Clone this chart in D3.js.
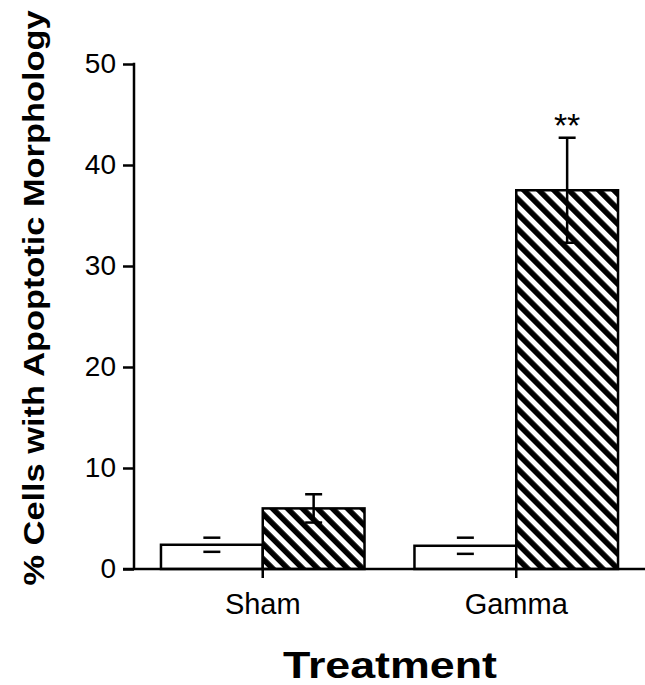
<!DOCTYPE html>
<html>
<head>
<meta charset="utf-8">
<script src="https://cdn.jsdelivr.net/npm/d3@7"></script>
<style>
  body { margin: 0; background: #fff; }
  svg { display: block; font-family: 'Liberation Sans', Arial, Helvetica, sans-serif; }
</style>
</head>
<body>
<div id="chart"></div>
<script>
// data
const groups = ['Sham', 'Gamma'];
const series = ['control', 'treated'];
const controlMeans = [2.4, 2.3];
const controlErr = [0.7, 0.8];
const treatedMeans = [6.0, 37.5];
const treatedErr = [1.4, 5.2];
const yTicks = [0, 10, 20, 30, 40, 50];
const marks = ['', '**'];

const width = 645;
const height = 685;
const margin = { top: 64, right: 1, bottom: 115, left: 136 };

const svg = d3.select('#chart')
  .append('svg')
  .attr('width', width)
  .attr('height', height);

// hatch pattern for the treated bars
const defs = svg.append('defs');
const pat = defs.append('pattern')
  .attr('id', 'hatch')
  .attr('patternUnits', 'userSpaceOnUse')
  .attr('width', 10.6)
  .attr('height', 10.6)
  .attr('patternTransform', 'rotate(-45)');
pat.append('rect').attr('width', 10.6).attr('height', 10.6).attr('fill', '#fff');
pat.append('rect').attr('width', 5.6).attr('height', 10.6).attr('fill', '#000');

// scales
const x = d3.scaleBand()
  .domain(groups)
  .range([margin.left, width - margin.right - 1])
  .paddingInner(0.197)
  .paddingOuter(0.0985);

const xInner = d3.scaleBand()
  .domain(series)
  .range([0, x.bandwidth()]);

const y = d3.scaleLinear()
  .domain([0, 50])
  .range([height - margin.bottom - 1, margin.top]);

const rows = [];
groups.forEach((g, i) => {
  rows.push({ group: g, key: 'control', mean: controlMeans[i], err: controlErr[i] });
  rows.push({ group: g, key: 'treated', mean: treatedMeans[i], err: treatedErr[i] });
});

const barX = (d) => x(d.group) + xInner(d.key);
const barMid = (d) => barX(d) + xInner.bandwidth() / 2;

// bars
svg.append('g')
  .selectAll('rect')
  .data(rows)
  .join('rect')
  .attr('x', barX)
  .attr('y', (d) => y(d.mean))
  .attr('width', xInner.bandwidth())
  .attr('height', (d) => y(0) - y(d.mean))
  .attr('fill', (d) => (d.key === 'treated' ? 'url(#hatch)' : '#fff'))
  .attr('stroke', '#000')
  .attr('stroke-width', 2.5);

// error bars (stems only show on the hatched bars)
const err = svg.append('g').attr('stroke', '#000').attr('stroke-width', 2.5);
const capW = 8.5;
err.selectAll('line.stem')
  .data(rows.filter((d) => d.key === 'treated'))
  .join('line')
  .attr('class', 'stem')
  .attr('x1', barMid)
  .attr('x2', barMid)
  .attr('y1', (d) => y(d.mean + d.err))
  .attr('y2', (d) => y(d.mean - d.err));
err.selectAll('line.capHi')
  .data(rows)
  .join('line')
  .attr('class', 'capHi')
  .attr('x1', (d) => barMid(d) - capW)
  .attr('x2', (d) => barMid(d) + capW)
  .attr('y1', (d) => y(d.mean + d.err))
  .attr('y2', (d) => y(d.mean + d.err));
err.selectAll('line.capLo')
  .data(rows)
  .join('line')
  .attr('class', 'capLo')
  .attr('x1', (d) => barMid(d) - capW)
  .attr('x2', (d) => barMid(d) + capW)
  .attr('y1', (d) => y(d.mean - d.err))
  .attr('y2', (d) => y(d.mean - d.err));

// significance marks
svg.append('g')
  .selectAll('text')
  .data(rows.filter((d) => d.key === 'treated'))
  .join('text')
  .attr('x', barMid)
  .attr('y', (d) => y(d.mean + d.err) - 1)
  .attr('text-anchor', 'middle')
  .attr('font-size', 34)
  .text((d, i) => marks[i]);

// y axis
const yAxis = d3.axisLeft(y)
  .tickValues(yTicks)
  .tickSize(11)
  .tickSizeOuter(0)
  .tickPadding(7);

const yAxisGroup = svg.append('g')
  .attr('transform', `translate(${margin.left - 2},0)`)
  .call(yAxis);
yAxisGroup.select('.domain').remove();
yAxisGroup.selectAll('line').attr('stroke', '#000').attr('stroke-width', 2.5);
yAxisGroup.selectAll('text')
  .attr('font-size', 28)
  .attr('font-family', "'Liberation Sans', Arial, sans-serif")
  .attr('fill', '#000');
yAxisGroup.append('line')
  .attr('x1', 0).attr('x2', 0)
  .attr('y1', y(50) - 1.25).attr('y2', y(0))
  .attr('stroke', '#000')
  .attr('stroke-width', 2.5);

// x axis
const xAxis = d3.axisBottom(x).tickSize(9).tickSizeOuter(0).tickPadding(15);
const xAxisGroup = svg.append('g')
  .attr('transform', `translate(0,${y(0)})`)
  .call(xAxis);
xAxisGroup.select('.domain').remove();
xAxisGroup.selectAll('line').attr('stroke', '#000').attr('stroke-width', 2.5);
xAxisGroup.selectAll('text')
  .attr('font-size', 29)
  .attr('font-family', "'Liberation Sans', Arial, sans-serif")
  .attr('fill', '#000');
xAxisGroup.append('line')
  .attr('x1', margin.left - 13).attr('x2', width)
  .attr('y1', 0).attr('y2', 0)
  .attr('stroke', '#000')
  .attr('stroke-width', 2.5);

// axis titles
svg.append('text')
  .attr('x', 390)
  .attr('y', 678)
  .attr('text-anchor', 'middle')
  .attr('font-size', 36)
  .attr('font-weight', 'bold')
  .attr('textLength', 214)
  .attr('lengthAdjust', 'spacingAndGlyphs')
  .text('Treatment');

svg.append('text')
  .attr('transform', 'translate(44,298) rotate(-90)')
  .attr('text-anchor', 'middle')
  .attr('font-size', 29)
  .attr('font-weight', 'bold')
  .attr('textLength', 575)
  .attr('lengthAdjust', 'spacingAndGlyphs')
  .text('% Cells with Apoptotic Morphology');
</script>
</body>
</html>
